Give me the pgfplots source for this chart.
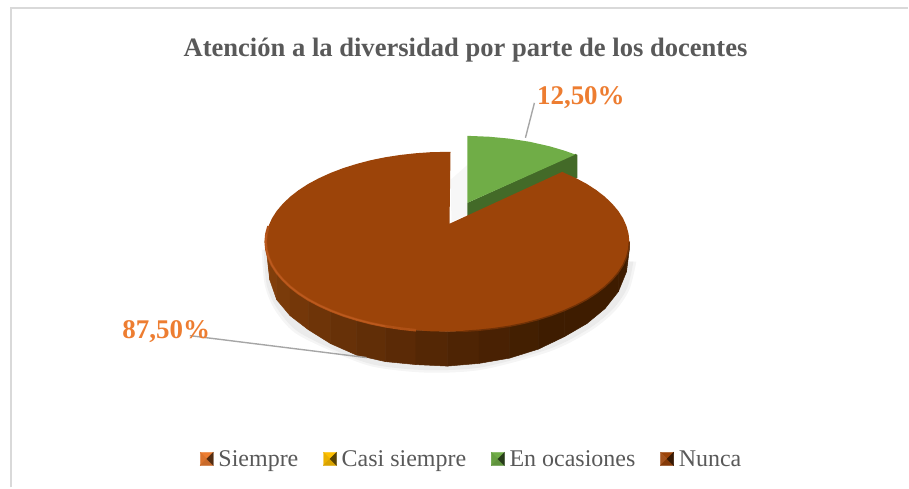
\documentclass[border=0pt]{standalone}
\usepackage{pgfplots}
\pgfplotsset{compat=1.18}
\usepackage{fontspec}
\setmainfont{Liberation Serif}
\definecolor{txtgrey}{HTML}{595959}
\definecolor{lblorange}{HTML}{ED7D31}
\definecolor{rule}{HTML}{D9D9D9}
\definecolor{leader}{HTML}{A6A6A6}
\definecolor{topbrown}{HTML}{9C4409}
\definecolor{rimlight}{HTML}{BC5A1E}
\definecolor{green1}{HTML}{70AD47}
\definecolor{green2}{HTML}{436A28}
\definecolor{sw1}{HTML}{ED7D31}
\definecolor{sw2}{HTML}{FFC000}
\newcommand\pyr[4]{%
  \fill[#1] (0pt,6.5pt)--(13pt,6.5pt)--(6.5pt,0pt)--cycle;
  \fill[#2] (0pt,6.5pt)--(0pt,-6.5pt)--(6.5pt,0pt)--cycle;
  \fill[#3] (0pt,-6.5pt)--(13pt,-6.5pt)--(6.5pt,0pt)--cycle;
  \fill[#4] (13pt,6.5pt)--(13pt,-6.5pt)--(6.5pt,0pt)--cycle;
  \path (16pt,0pt);
}
\pgfplotsset{colormap={wall}{rgb255(0cm)=(135,65,12); rgb255(9cm)=(78,36,4); rgb255(12cm)=(62,28,0); rgb255(18cm)=(62,28,0)}}
\begin{document}
\begin{tikzpicture}
\begin{axis}[
  scale only axis, width=909pt, height=488pt,
  xmin=0, xmax=909, ymin=0, ymax=488, y dir=reverse,
  hide axis, clip=false,
  colormap name=wall, point meta min=0, point meta max=18,
  title={\fontsize{26.6}{30}\selectfont\bfseries Atención a la diversidad por parte de los docentes},
  title style={at={(axis description cs:0.5127,0.8852)}, anchor=center, yshift=0pt, text=txtgrey},
  legend columns=4,
  legend style={at={(axis description cs:0.5195,0.0585)}, anchor=center, draw=none, fill=none,
    font=\fontsize{24}{28}\selectfont, text=txtgrey,
    /tikz/column 2/.style={column sep=23pt},
    /tikz/column 4/.style={column sep=23pt},
    /tikz/column 6/.style={column sep=23pt}},
  legend cell align=left,
]
\path (axis cs:0,0) (axis cs:909,488);
% chart border
\addplot[rule, line width=2pt, forget plot] coordinates {(11,488) (11,8.5) (909,8.5)};
% shadow
\addplot[fill=black!4, draw=none, smooth, forget plot] coordinates {(262,250) (265,285) (275,310) (295,333) (333,352) (373,367) (427,373) (483,370) (550,352) (590,332) (615,312) (630,290) (637,262)};
\addplot[fill=black!8, draw=none, smooth, forget plot] coordinates {(264,250) (267,285) (277,308) (297,331) (334,350) (374,365) (427,370.5) (483,367.5) (549,349.5) (588,330) (613,310) (628,288) (634,262)};
\addplot[fill=black!3, draw=none, forget plot] coordinates {(451,180) (468,165) (468,215) (452,222)} -- cycle;
% green slice, wall then top
\addplot[fill=green2, draw=none, forget plot] coordinates {(468,203) (576,154) (578,155) (578,178) (468,217)} -- cycle;
\addplot[fill=green1, draw=none, forget plot] coordinates {(468,203) (468,136) (490,136.9) (510,138.8) (530,141.9) (550,146.4) (565,150.8) (576,154.7)} -- cycle;
% wall of the large slice
\addplot[patch, patch type=rectangle, shader=faceted, faceted color=mapped color, line width=0.5pt, point meta=explicit, forget plot] table[x=x, y=y, meta=c] {
x y c
266 242 0
268.8 257.6 0
270 280 0
267.5 258 0
268.8 257.6 1
277 272.8 1
277 300 1
270 280 1
277 272.8 2
290.4 287 2
290.4 316 2
277 300 2
290.4 287 3
308.6 299.9 3
308.6 330 3
290.4 316 3
308.6 299.9 4
331 310.9 4
331 344 4
308.6 330 4
331 310.9 5
357 319.9 5
357 355.5 5
331 344 5
357 319.9 6
385.8 326.6 6
385.8 362 6
357 355.5 6
385.8 326.6 7
416.4 330.6 7
416.4 365 7
385.8 362 7
416.4 330.6 8
448 332 8
448 366.5 8
416.4 365 8
448 332 9
479.6 330.6 9
479.6 363.8 9
448 366.5 9
479.6 330.6 10
510.2 326.6 10
510.2 358.5 10
479.6 363.8 10
510.2 326.6 11
539 319.9 11
539 349.5 11
510.2 358.5 11
539 319.9 12
565 310.9 12
565 337 12
539 349.5 12
565 310.9 13
587.4 299.9 13
587.4 324 13
565 337 13
587.4 299.9 14
605.6 287 14
605.6 309 14
587.4 324 14
605.6 287 15
619 272.8 15
619 292 15
605.6 309 15
619 272.8 16
627.2 257.6 16
627.2 272 16
619 292 16
627.2 257.6 17
630 242 17
630 250 17
627.2 272 17
};
% top of the large slice
\addplot[fill=topbrown, draw=none, forget plot] coordinates {(450,224) (451,152) (432.1,152.3) (416.4,153.4) (400.9,155.1) (385.8,157.4) (371.1,160.4) (357,164.1) (343.6,168.3) (331,173.1) (319.3,178.4) (308.6,184.1) (298.9,190.4) (290.4,197) (283.1,204) (277,211.2) (272.2,218.7) (268.8,226.4) (266.7,234.2) (266,242) (266.7,249.8) (268.8,257.6) (272.2,265.3) (277,272.8) (283.1,280) (290.4,287) (298.9,293.6) (308.6,299.9) (319.3,305.6) (331,310.9) (343.6,315.7) (357,319.9) (371.1,323.6) (385.8,326.6) (400.9,328.9) (416.4,330.6) (432.1,331.7) (448,332) (463.9,331.7) (479.6,330.6) (495.1,328.9) (510.2,326.6) (524.9,323.6) (539,319.9) (552.4,315.7) (565,310.9) (576.7,305.6) (587.4,299.9) (597.1,293.6) (605.6,287) (612.9,280) (619,272.8) (623.8,265.3) (627.2,257.6) (629.3,249.8) (630,242) (629.3,234.2) (627.2,226.4) (623.8,218.7) (619,211.2) (612.9,204) (605.6,197) (597.1,190.4) (587.4,184.1) (576.7,178.4) (565,173.1) (563,172)} -- cycle;
% bevel on the rim: light on the left, dark on the right
\addplot[rimlight!55!topbrown, line width=2.6pt, forget plot] coordinates {(268.8,226.4) (266.7,234.2) (266,242) (266.7,249.8) (268.8,257.6) (272.2,265.3) (277,272.8) (283.1,280) (290.4,287) (298.9,293.6) (308.6,299.9) (319.3,305.6) (331,310.9) (343.6,315.7) (357,319.9) (371.1,323.6) (385.8,326.6) (400.9,328.9) (416.4,330.6)};
\addplot[rimlight, line width=1.3pt, forget plot] coordinates {(266.7,234.2) (266,242) (266.7,249.8) (268.8,257.6) (272.2,265.3) (277,272.8) (283.1,280) (290.4,287) (298.9,293.6) (308.6,299.9) (319.3,305.6) (331,310.9) (343.6,315.7) (357,319.9) (371.1,323.6) (385.8,326.6)};
\addplot[topbrown!72!black, line width=1.4pt, forget plot] coordinates {(463.9,331.7) (479.6,330.6) (495.1,328.9) (510.2,326.6) (524.9,323.6) (539,319.9) (552.4,315.7) (565,310.9) (576.7,305.6) (587.4,299.9) (597.1,293.6) (605.6,287) (612.9,280) (619,272.8) (623.8,265.3) (627.2,257.6) (629.3,249.8) (630,242)};
% leader lines
\addplot[leader, line width=1.4pt, forget plot] coordinates {(190,336) (367,358)};
\addplot[leader, line width=1.4pt, forget plot] coordinates {(535,103) (526,138)};
\node[text=lblorange, font=\fontsize{27}{30}\selectfont\bfseries] at (axis cs:581.5,98) {12,50\%};
\node[text=lblorange, font=\fontsize{27}{30}\selectfont\bfseries] at (axis cs:166.5,332) {87,50\%};
% legend
\addlegendimage{legend image code/.code={\pyr{sw1}{sw1!92!black}{sw1!85!black}{sw1!35!black}}}
\addlegendentry{Siempre}
\addlegendimage{legend image code/.code={\pyr{sw2}{sw2!92!black}{sw2!85!black}{sw2!35!black}}}
\addlegendentry{Casi siempre}
\addlegendimage{legend image code/.code={\pyr{green1}{green1!92!black}{green1!85!black}{green1!35!black}}}
\addlegendentry{En ocasiones}
\addlegendimage{legend image code/.code={\pyr{topbrown}{topbrown!92!white}{topbrown!85!black}{topbrown!35!black}}}
\addlegendentry{Nunca}
\end{axis}
\end{tikzpicture}
\end{document}
